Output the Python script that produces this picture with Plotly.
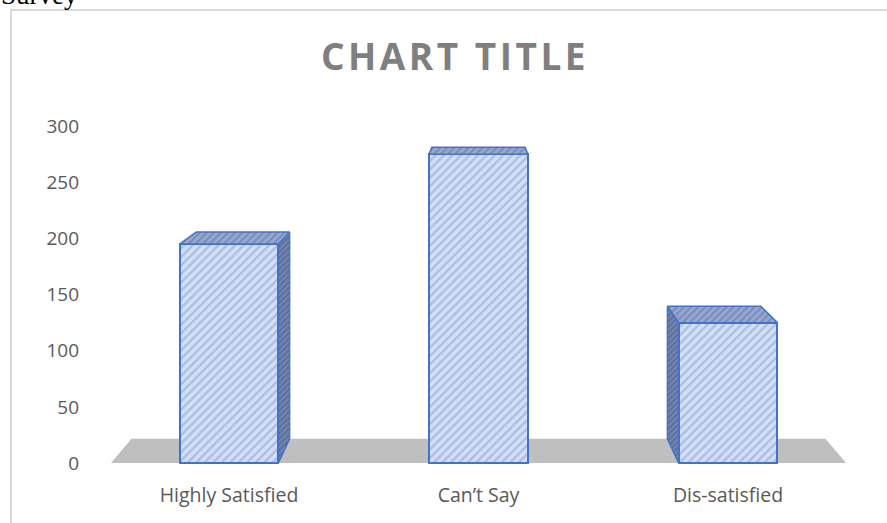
import plotly.graph_objects as go

# ---------------- data ----------------
categories = ["Highly Satisfied", "Can’t Say", "Dis-satisfied"]
values = [195, 275, 125]
y_ticks = [0, 50, 100, 150, 200, 250, 300]

# ---------------- geometry / style ----------------
W, H = 887, 523
ML, MR, MT, MB = 92, 15, 100, 53
X_RANGE = [-0.549, 2.577]
Y_RANGE = [-6.2, 323.2]
HW = 0.198            # half bar width (axis units)
VP = (1.0, 385.5)     # perspective vanishing point (data units)
F = 0.056             # depth factor
FLOOR_PAD = 0.473

EDGE = "#4472c4"
FRONT_BG, FRONT_FG = "#d3dff4", "#7f9bd6"
TOP_BG, TOP_FG = "#98a9d0", "#5d72a3"
SIDE_BG, SIDE_FG = "#7486b0", "#3e5080"
TEXT = "#595959"


def back(p):
    return (p[0] + F * (VP[0] - p[0]), p[1] + F * (VP[1] - p[1]))


def px2paper(px, py):
    return ((px - ML) / (W - ML - MR), (H - MB - py) / (H - MT - MB))


def poly_trace(pts, bg, fg, size, lw=1.5):
    xs = [p[0] for p in pts] + [pts[0][0]]
    ys = [p[1] for p in pts] + [pts[0][1]]
    return go.Scatter(
        x=xs, y=ys, mode="lines", fill="toself",
        fillcolor=bg,
        fillpattern=dict(shape="/", bgcolor=bg, fgcolor=fg, size=size, solidity=0.45),
        line=dict(color=EDGE, width=lw),
        hoverinfo="skip", showlegend=False,
    )


fig = go.Figure()

xs_cat = list(range(len(categories)))

# floor (drawn below all traces)
fl = (xs_cat[0] - FLOOR_PAD, 0)
fr = (xs_cat[-1] + FLOOR_PAD, 0)
floor_pts = [fl, fr, back(fr), back(fl)]
path = "M " + " L ".join(f"{p[0]},{p[1]}" for p in floor_pts) + " Z"
fig.add_shape(type="path", path=path, xref="x", yref="y", fillcolor="#bfbfbf",
              line=dict(width=0), layer="below")

# front faces (bars)
fig.add_trace(go.Bar(
    x=xs_cat, y=values, width=2 * HW,
    marker=dict(color=FRONT_BG,
                pattern=dict(shape="/", bgcolor=FRONT_BG, fgcolor=FRONT_FG, size=6, solidity=0.4),
                line=dict(color=EDGE, width=2)),
    hoverinfo="skip", showlegend=False))

# side and top faces
for x, v in zip(xs_cat, values):
    ftl, ftr = (x - HW, v), (x + HW, v)
    fbl, fbr = (x - HW, 0), (x + HW, 0)
    if x < VP[0] - 1e-9:
        side = [fbr, ftr, back(ftr), back(fbr)]
        fig.add_trace(poly_trace(side, SIDE_BG, SIDE_FG, 4))
    elif x > VP[0] + 1e-9:
        side = [fbl, ftl, back(ftl), back(fbl)]
        fig.add_trace(poly_trace(side, SIDE_BG, SIDE_FG, 4))
    top = [ftl, ftr, back(ftr), back(ftl)]
    fig.add_trace(poly_trace(top, TOP_BG, TOP_FG, 5))

# chart border
b0 = px2paper(11, 10)
b1 = px2paper(900, 540)
fig.add_shape(type="rect", xref="paper", yref="paper", x0=b0[0], y0=b1[1], x1=b1[0], y1=b0[1],
              line=dict(color="#d9d9d9", width=2), fillcolor="rgba(0,0,0,0)", layer="below")

# "Survey" text cut at the top of the page
sx, sy = px2paper(-1, 12)
fig.add_annotation(text="Survey", xref="paper", yref="paper", x=sx, y=sy,
                   xanchor="left", yanchor="bottom", showarrow=False,
                   font=dict(family="Liberation Serif", size=27, color="black"))

fig.update_layout(
    width=W, height=H,
    margin=dict(l=ML, r=MR, t=MT, b=MB),
    paper_bgcolor="white", plot_bgcolor="white",
    title=dict(text='<span style="letter-spacing:3.5px">CHART TITLE</span>',
               x=455 / W, xanchor="center", xref="container",
               y=1 - 57 / H, yanchor="middle", yref="container",
               font=dict(family="Open Sans", size=37, color="#7f7f7f", weight="bold")),
    xaxis=dict(range=X_RANGE, tickvals=xs_cat, ticktext=categories, showgrid=False,
               zeroline=False, showline=False, ticks="", ticklabelstandoff=11,
               tickfont=dict(family="Open Sans", size=19.5, color=TEXT), fixedrange=True),
    yaxis=dict(range=Y_RANGE, tickvals=y_ticks, showgrid=False, zeroline=False,
               showline=False, ticks="", ticklabelstandoff=12,
               tickfont=dict(family="Open Sans", size=19, color=TEXT), fixedrange=True),
    bargap=0,
)

fig.write_html("out.html")
